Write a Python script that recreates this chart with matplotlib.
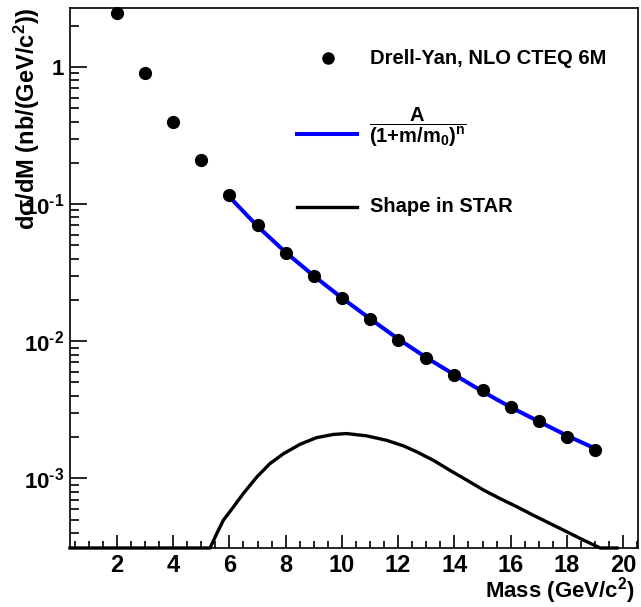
import matplotlib
matplotlib.use('Agg')
import matplotlib.pyplot as plt
from matplotlib.ticker import FixedLocator, LogLocator, NullFormatter, MultipleLocator
from matplotlib.lines import Line2D

plt.rcParams['font.family'] = ['Liberation Sans']
plt.rcParams['font.weight'] = 'bold'
plt.rcParams['mathtext.fontset'] = 'custom'
plt.rcParams['mathtext.rm'] = 'Liberation Sans:bold'
plt.rcParams['mathtext.it'] = 'Liberation Sans:bold'
plt.rcParams['mathtext.bf'] = 'Liberation Sans:bold'

# Drell-Yan NLO CTEQ 6M points
mass = [2, 3, 4, 5, 6, 7, 8, 9, 10, 11, 12, 13, 14, 15, 16, 17, 18, 19]
xsec = [2.48, 0.90, 0.40, 0.21, 0.116, 0.070, 0.044, 0.030, 0.0206, 0.0145,
        0.0102, 0.0076, 0.0057, 0.0044, 0.0033, 0.0026, 0.0020, 0.0016]

# fit A/(1+m/m0)^n
fit_mass = [6, 7, 8, 9, 10, 11, 12, 13, 14, 15, 16, 17, 18, 19]
fit_vals = [0.113, 0.069, 0.0445, 0.0300, 0.0207, 0.0146, 0.0104, 0.0076,
            0.0057, 0.0043, 0.0033, 0.0026, 0.00205, 0.00165]

# shape in STAR
ymin, ymax = 3.1e-4, 2.7
star_mass = [0.33, 5.31, 5.55, 5.78, 6.14, 6.49, 6.97, 7.44, 7.92, 8.51, 9.1,
             9.7, 10.17, 10.88, 11.6, 12.2, 12.66, 13.26, 13.85, 14.44, 15.04,
             15.63, 16.22, 16.81, 17.41, 18.0, 18.59, 19.19, 19.78]
star_vals = [ymin, ymin, 3.95e-4, 4.93e-4, 6.17e-4, 7.73e-4, 1.02e-3, 1.28e-3,
             1.51e-3, 1.77e-3, 1.98e-3, 2.09e-3, 2.12e-3, 2.04e-3, 1.89e-3,
             1.72e-3, 1.56e-3, 1.35e-3, 1.14e-3, 9.7e-4, 8.2e-4, 7.1e-4,
             6.2e-4, 5.37e-4, 4.67e-4, 4.07e-4, 3.54e-4, ymin, ymin]

fig = plt.figure(figsize=(6.41, 6.07), dpi=100)
ax = fig.add_axes([70 / 641, 1 - 548 / 607, 568 / 641, 540 / 607])

ax.plot(star_mass, star_vals, color='black', lw=2.4, clip_on=False, zorder=3,
        solid_joinstyle='round')
ax.plot(fit_mass, fit_vals, color='#0000ff', lw=2.9, zorder=4)
ax.plot(mass, xsec, 'o', color='black', ms=8.5, zorder=5, clip_on=False)

ax.set_yscale('log')
ax.set_xlim(0.33, 20.53)
ax.set_ylim(ymin, ymax)

ax.xaxis.set_major_locator(FixedLocator([2, 4, 6, 8, 10, 12, 14, 16, 18, 20]))
ax.xaxis.set_minor_locator(MultipleLocator(0.5))
ax.yaxis.set_major_locator(FixedLocator([1e-3, 1e-2, 1e-1, 1]))
ax.set_yticklabels([r'10$^{\text{-}3}$', r'10$^{\text{-}2}$', r'10$^{\text{-}1}$', '1'])
ax.yaxis.set_minor_locator(LogLocator(base=10, subs=range(2, 10)))
ax.yaxis.set_minor_formatter(NullFormatter())

ax.tick_params(axis='x', which='major', direction='in', length=9.5, width=1.2,
               labelsize=17, pad=4)
ax.tick_params(axis='x', which='minor', direction='in', length=5, width=1.2)
ax.tick_params(axis='y', which='major', direction='in', length=12, width=1.2,
               labelsize=16, pad=4)
ax.tick_params(axis='y', which='minor', direction='in', length=6.5, width=1.2)
for s in ax.spines.values():
    s.set_linewidth(1.2)

fig.text(635 / 641, 1 - 591 / 607, r'Mass (GeV/c$^2$)', ha='right', va='center',
         fontsize=16, fontweight='bold')
fig.text(27 / 641, 1 - 7 / 607, r'd$\sigma$/dM (nb/(GeV/c$^2$))', rotation=90,
         ha='center', va='top', fontsize=17, fontweight='bold')

# legend
def fx(px):
    return px / 641

def fy(py):
    return 1 - py / 607

fig.add_artist(Line2D([fx(328)], [fy(58)], marker='o', color='black', ms=8))
fig.add_artist(Line2D([fx(297), fx(357)], [fy(134), fy(134)], color='#0000ff', lw=2.9))
fig.add_artist(Line2D([fx(297), fx(357)], [fy(207), fy(207)], color='black', lw=2.4))
fig.text(fx(370), fy(58), 'Drell-Yan, NLO CTEQ 6M', ha='left', va='center',
         fontsize=14.5, fontweight='bold')
fig.text(fx(369), fy(127), r'$\dfrac{A}{(1{+}m/m_0)^n}$', ha='left', va='center',
         fontsize=14.5)
fig.text(fx(370), fy(207), 'Shape in STAR', ha='left', va='center',
         fontsize=14.5, fontweight='bold')

fig.savefig('out.png', dpi=100)
